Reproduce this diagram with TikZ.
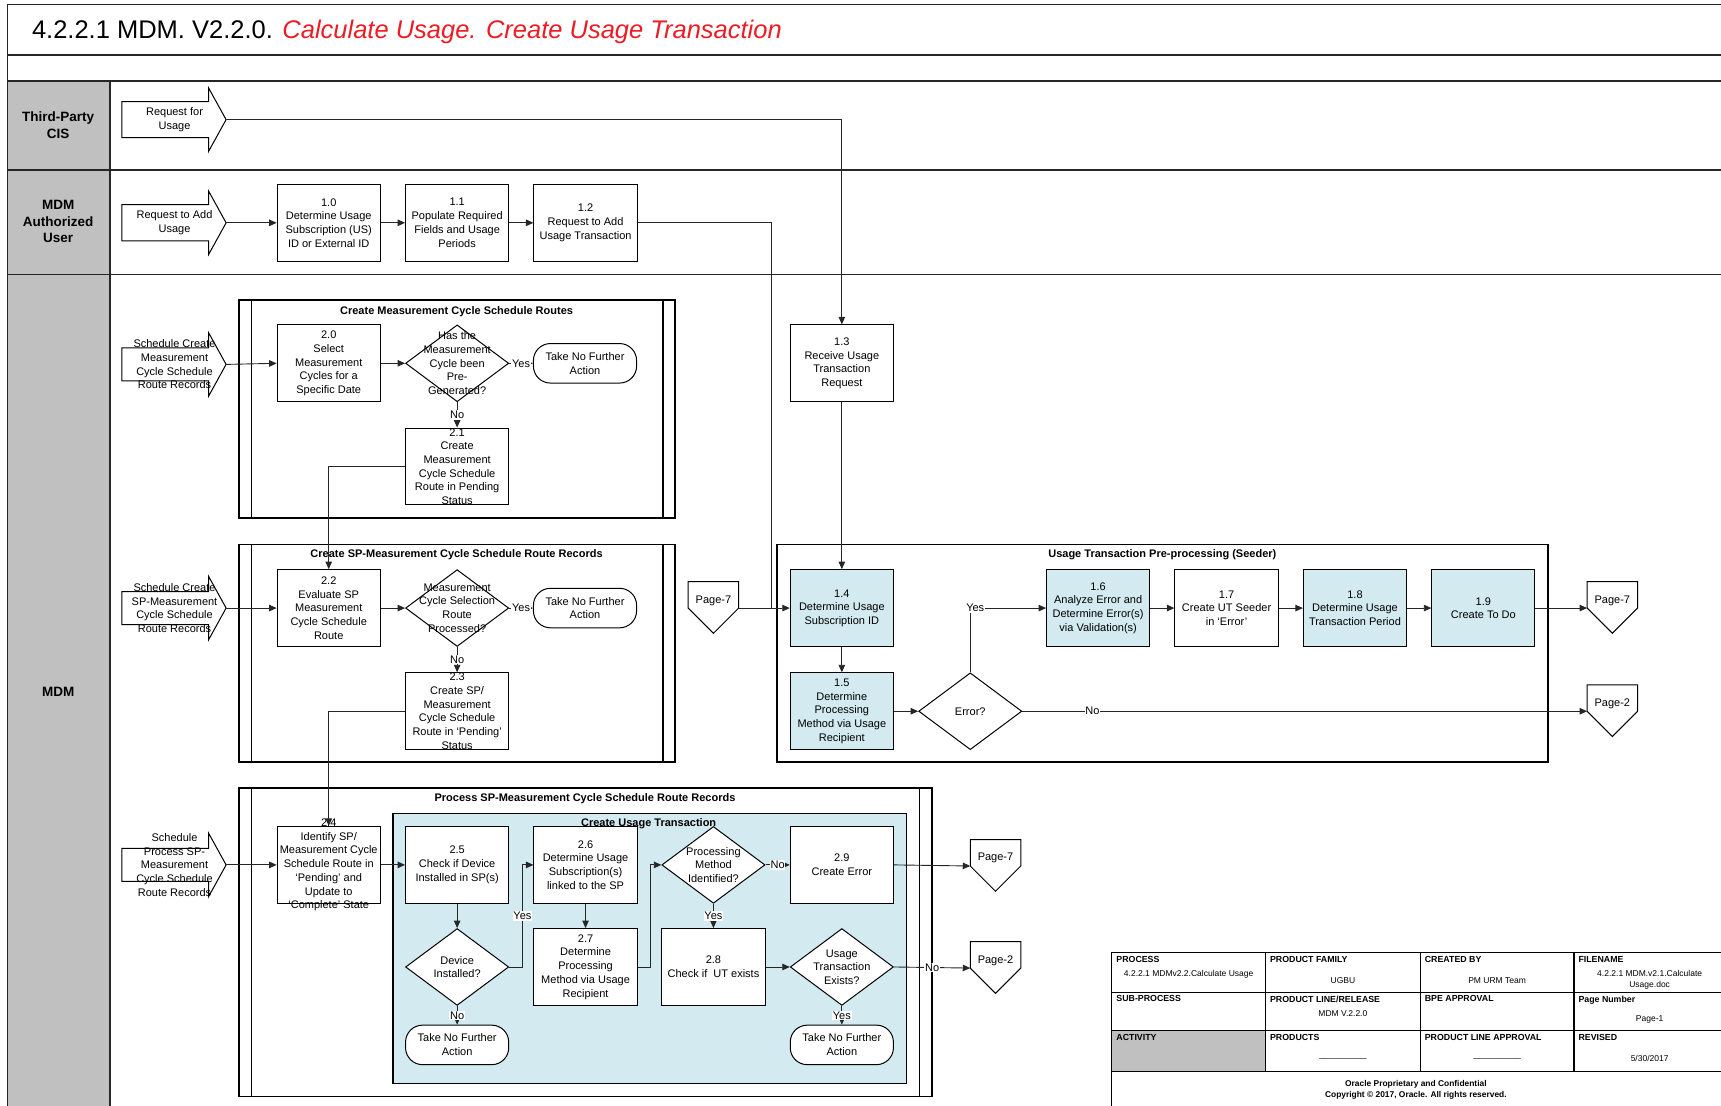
\documentclass[tikz,border=0pt]{standalone}
\usepackage{fontspec}
\setmainfont{Liberation Sans}
\usetikzlibrary{shapes.geometric,arrows.meta}
\definecolor{lblue}{RGB}{210,234,240}
\definecolor{hgray}{RGB}{192,192,192}
\definecolor{tred}{RGB}{237,28,36}
\tikzset{
 sz/.style 2 args={minimum width=#1*1.0976pt, minimum height=#2*1.0976pt},
 shp/.style={draw=black, line width=1pt, fill=white},
 box/.style={shp, rectangle, inner sep=0pt, sz={94}{70}},
 bbox/.style={box, fill=lblue},
 dia/.style={shp, diamond, inner sep=0pt, sz={94}{70}},
 term/.style={shp, rectangle, rounded corners=17pt, inner sep=0pt, sz={94}{36}},
 txt/.style={align=center, inner sep=0pt, font=\fontsize{11}{13.7}\selectfont},
 lbl/.style={fill=white, inner sep=0.8pt, font=\fontsize{11}{13}\selectfont},
 arr/.style={draw=black!85, line width=0.9pt, -{Triangle[length=7.5pt,width=6.5pt]}},
 ln/.style={draw=black!85, line width=0.9pt},
 grp/.style={draw=black, line width=1.8pt},
 grpin/.style={draw=black, line width=1.2pt},
 frm/.style={draw=black!85, line width=1.5pt},
 gtitle/.style={font=\bfseries\fontsize{11}{13}\selectfont, inner sep=0pt},
 lane/.style={font=\bfseries\fontsize{13.5}{16.5}\selectfont, align=center, inner sep=0pt},
 tlab/.style={font=\bfseries\fontsize{8.8}{10}\selectfont, anchor=north west, inner sep=0pt},
 tval/.style={font=\fontsize{8.5}{11}\selectfont, align=center, inner sep=0pt},
}
\newcommand\PBox[5]{%
 \node[#4] (#1) at (#2,#3) {};
 \node[txt] (#1t) at (#1) {#5};}
\newcommand\BArrow[4]{%
 \draw[shp] (111,#2-#3) -- (190,#2-#3) -- (190,#2-29) -- (206,#2) -- (190,#2+29) -- (190,#2+#3) -- (111,#2+#3) -- cycle;
 \node[txt] (#1t) at (159,#2) {#4};
 \coordinate (#1) at (206,#2);}
\newcommand\OffPage[4]{%
 \draw[shp] (#2-23,#3) -- (#2+23,#3) -- (#2+23,#3+24) -- (#2,#3+47) -- (#2-23,#3+24) -- cycle;
 \node[txt] (#1) at (#2,#3+17) {#4};
 \coordinate (#1w) at (#2-23,#3+24);
 \coordinate (#1e) at (#2+23,#3+24);}
\begin{document}
\begin{tikzpicture}[x=1.0976pt,y=-1.0976pt]
\useasboundingbox (0,0) rectangle (1568,1007);
\begin{scope}
\clip (0,0) rectangle (1568,1007);
% ---------- frame ----------
\fill[hgray] (7,74) rectangle (100,1012);
\draw[frm] (100,74) -- (100,1012);
\draw[frm] (7,1012) -- (7,4) -- (1575,4);
\foreach \yy in {50,74,155,250} \draw[frm] (7,\yy) -- (1575,\yy);
\node[anchor=base west, inner sep=0pt, font=\fontsize{25.5}{30}\selectfont] (title) at (29,35)
 {4.2.2.1 MDM. V2.2.0. \textcolor{tred}{\itshape Calculate Usage. Create Usage Transaction}};
\node[lane] (lane1) at (53,114) {Third-Party\\CIS};
\node[lane] (lane2) at (53,202) {MDM\\Authorized\\User};
\node[lane] (lane3) at (53,630) {MDM};
% ---------- groups ----------
\draw[grp] (218,273) rectangle (615,472);
\draw[grpin] (229,273) -- (229,472) (604,273) -- (604,472);
\draw[grp] (218,496) rectangle (615,694);
\draw[grpin] (229,496) -- (229,694) (604,496) -- (604,694);
\draw[grp] (218,718) rectangle (849,999);
\draw[grpin] (229,718) -- (229,999) (838,718) -- (838,999);
\draw[grp, fill=lblue, line width=1.5pt] (358,741) rectangle (826,987);
\draw[grp] (708,496) rectangle (1410,694);
% ---------- block arrows ----------
\BArrow{a1}{109}{16.5}{Request for\\Usage}
\BArrow{a2}{203}{16.5}{Request to Add\\Usage}
\BArrow{a3}{332}{15}{Schedule Create\\Measurement\\Cycle Schedule\\Route Records}
\BArrow{a4}{554}{15}{Schedule Create\\SP-Measurement\\Cycle Schedule\\Route Records}
\BArrow{a5}{788}{15}{Schedule\\Process SP-\\Measurement\\Cycle Schedule\\Route Records}
% ---------- boxes ----------
\PBox{b10}{299.5}{203}{box}{1.0\\Determine Usage\\Subscription (US)\\ID or External ID}
\PBox{b11}{416.5}{203}{box}{1.1\\Populate Required\\Fields and Usage\\Periods}
\PBox{b12}{533.5}{203}{box}{1.2\\Request to Add\\Usage Transaction}
\PBox{b13}{767}{331}{box}{1.3\\Receive Usage\\Transaction\\Request}
\PBox{b20}{299.5}{331}{box}{2.0\\Select\\Measurement\\Cycles for a\\Specific Date}
\PBox{d1}{416.5}{331}{dia}{Has the\\Measurement\\Cycle been\\Pre-\\Generated?}
\PBox{t1}{533}{331}{term}{Take No Further\\Action}
\PBox{b21}{416.5}{425}{box}{2.1\\Create\\Measurement\\Cycle Schedule\\Route in Pending\\Status}
\PBox{b22}{299.5}{554}{box}{2.2\\Evaluate SP\\Measurement\\Cycle Schedule\\Route}
\PBox{d2}{416.5}{554}{dia}{Measurement\\Cycle Selection\\Route\\Processed?}
\PBox{t2}{533}{554}{term}{Take No Further\\Action}
\PBox{b23}{416.5}{648}{box}{2.3\\Create SP/\\Measurement\\Cycle Schedule\\Route in `Pending'\\Status}
\PBox{b24}{299.5}{788}{box}{2.4\\Identify SP/\\Measurement Cycle\\Schedule Route in\\`Pending' and\\Update to\\`Complete' State}
\PBox{b25}{416.5}{788}{box}{2.5\\Check if Device\\Installed in SP(s)}
\PBox{b26}{533.5}{788}{box}{2.6\\Determine Usage\\Subscription(s)\\linked to the SP}
\PBox{d3}{650}{788}{dia}{Processing\\Method\\Identified?}
\PBox{b29}{767}{788}{box}{2.9\\Create Error}
\PBox{d4}{416.5}{881}{dia}{Device\\Installed?}
\PBox{b27}{533.5}{881}{box}{2.7\\Determine\\Processing\\Method via Usage\\Recipient}
\PBox{b28}{650}{881}{box}{2.8\\Check if~ UT exists}
\PBox{d5}{767}{881}{dia}{Usage\\Transaction\\Exists?}
\PBox{t3}{416.5}{952}{term}{Take No Further\\Action}
\PBox{t4}{767}{952}{term}{Take No Further\\Action}
\PBox{b14}{767}{554}{bbox}{1.4\\Determine Usage\\Subscription ID}
\PBox{b15}{767}{648}{bbox}{1.5\\Determine\\Processing\\Method via Usage\\Recipient}
\PBox{err}{884}{648}{dia}{Error?}
\PBox{b16}{1000.5}{554}{bbox}{1.6\\Analyze Error and\\Determine Error(s)\\via Validation(s)}
\PBox{b17}{1117.5}{554}{box}{1.7\\Create UT Seeder\\in `Error'}
\PBox{b18}{1234.5}{554}{bbox}{1.8\\Determine Usage\\Transaction Period}
\PBox{b19}{1351.5}{554}{bbox}{1.9\\Create To Do}
% ---------- off-page connectors ----------
\OffPage{p7a}{650}{530}{Page-7}
\OffPage{p7b}{1469}{530}{Page-7}
\OffPage{p2a}{1469}{624}{Page-2}
\OffPage{p7c}{907}{765}{Page-7}
\OffPage{p2b}{907}{858}{Page-2}
% ---------- group titles ----------
\node[gtitle] (g1) at (416,283.5) {Create Measurement Cycle Schedule Routes};
\node[gtitle] (g2) at (416,505.5) {Create SP-Measurement Cycle Schedule Route Records};
\node[gtitle] (g3) at (533,727.5) {Process SP-Measurement Cycle Schedule Route Records};
\node[gtitle] (g4) at (1059,505.5) {Usage Transaction Pre-processing (Seeder)};
\node[gtitle] (g5) at (591,750.5) {Create Usage Transaction};
% ---------- connectors ----------
\draw[arr] (a1) -| (b13.north);
\draw[arr] (a2) -- (b10.west);
\draw[arr] (b10.east) -- (b11.west);
\draw[arr] (b11.east) -- (b12.west);
\coordinate (j1) at (703,554);
\draw[ln] (b12.east) -| (j1);
\draw[arr] (p7ae) -- (b14.west);
\draw[arr] (b13.south) -- (b14.north);
\draw[arr] (b14.south) -- (b15.north);
\draw[arr] (b15.east) -- (err.west);
\draw[arr] (err.north) |- node[lbl, pos=0.5, xshift=5pt] {Yes} (b16.west);
\draw[arr] (err.east) -- node[lbl, pos=0.124] {No} (p2aw);
\draw[arr] (b16.east) -- (b17.west);
\draw[arr] (b17.east) -- (b18.west);
\draw[arr] (b18.east) -- (b19.west);
\draw[arr] (b19.east) -- (p7bw);
\draw[arr] (a3) -- (b20.west);
\draw[arr] (b20.east) -- (d1.west);
\draw[arr] (d1.east) -- node[lbl] {Yes} (t1.west);
\draw[arr] (d1.south) -- node[lbl] {No} (b21.north);
\draw[arr] (b21.west) -| (b22.north);
\draw[arr] (a4) -- (b22.west);
\draw[arr] (b22.east) -- (d2.west);
\draw[arr] (d2.east) -- node[lbl] {Yes} (t2.west);
\draw[arr] (d2.south) -- node[lbl] {No} (b23.north);
\draw[arr] (b23.west) -| (b24.north);
\draw[arr] (a5) -- (b24.west);
\draw[arr] (b24.east) -- (b25.west);
\draw[arr] (b25.south) -- (d4.north);
\draw[arr] (d4.south) -- node[lbl] {No} (t3.north);
\draw[arr] (d4.east) -- ++(12,0) |- node[lbl, pos=0.25] {Yes} (b26.west);
\draw[arr] (b26.south) -- (b27.north);
\draw[arr] (b27.east) -- ++(12,0) |- (d3.west);
\draw[arr] (d3.east) -- node[lbl] {No} (b29.west);
\draw[arr] (d3.south) -- node[lbl] {Yes} (b28.north);
\draw[arr] (b28.east) -- (d5.west);
\draw[arr] (d5.south) -- node[lbl] {Yes} (t4.north);
\draw[arr] (d5.east) -- node[lbl] {No} (p2bw);
\draw[arr] (b29.east) -- (p7cw);
% ---------- title block ----------
\fill[hgray] (1013,939) rectangle (1153,976);
\draw[line width=1.2pt] (1013,1012) -- (1013,868) -- (1575,868);
\foreach \yy in {904,939,976} \draw[line width=1.2pt] (1013,\yy) -- (1575,\yy);
\foreach \xx in {1153,1294,1434} \draw[line width=1.2pt] (\xx,868) -- (\xx,976);
\node[tlab] (l11) at (1017,871) {PROCESS};
\node[tlab] (l12) at (1157,871) {PRODUCT FAMILY};
\node[tlab] (l13) at (1298,871) {CREATED BY};
\node[tlab] (l14) at (1438,871) {FILENAME};
\node[tlab] (l21) at (1017,907) {SUB-PROCESS};
\node[tlab] (l22) at (1157,907) {PRODUCT LINE/RELEASE};
\node[tlab] (l23) at (1298,907) {BPE APPROVAL};
\node[tlab] (l24) at (1438,907) {Page Number};
\node[tlab] (l31) at (1017,942) {ACTIVITY};
\node[tlab] (l32) at (1157,942) {PRODUCTS};
\node[tlab] (l33) at (1298,942) {PRODUCT LINE APPROVAL};
\node[tlab] (l34) at (1438,942) {REVISED};
\node[tval] (v11) at (1083,888) {4.2.2.1 MDMv2.2.Calculate Usage};
\node[tval] (v12) at (1223.5,893) {UGBU};
\node[tval] (v13) at (1364,893) {PM URM Team};
\node[tval] (v14) at (1503,893) {4.2.2.1 MDM.v2.1.Calculate\\Usage.doc};
\node[tval] (v22) at (1223.5,923) {MDM V.2.2.0};
\node[tval] (v24) at (1503,929) {Page-1};
\node[tval] (v32) at (1223.5,964) {\_\_\_\_\_\_\_\_\_\_};
\node[tval] (v33) at (1364,964) {\_\_\_\_\_\_\_\_\_\_};
\node[tval] (v34) at (1503,964) {5/30/2017};
\node[tval, font=\bfseries\fontsize{8.4}{10.5}\selectfont] (copy) at (1290,993) {Oracle Proprietary and Confidential\\Copyright © 2017, Oracle. All rights reserved.};
\end{scope}
\end{tikzpicture}
\end{document}
